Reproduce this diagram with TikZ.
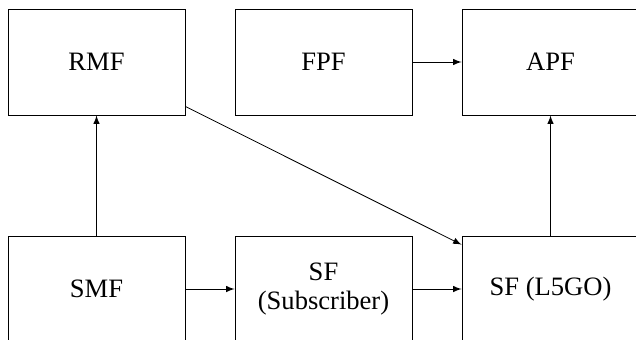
\documentclass[tikz,border=0pt]{standalone}
\usepackage{fontspec}
\setmainfont{Liberation Serif}
\usetikzlibrary{arrows}
\tikzstyle{block}=[draw,minimum width=83.3pt,minimum height=49.9pt,inner sep=0pt,align=center,font=\fontsize{12.5}{13.8}\selectfont]
\tikzstyle{edge} = [draw,-latex]

\begin{document}
\begin{tikzpicture}[x=0.4706pt,y=0.4706pt]

    \useasboundingbox (0,0) rectangle (636,339);
    \clip (0,0) rectangle (636,339);

    \def\ya{277};
    \def\yb{50};

% Functions
    \foreach \pos/\name/\txt in {{(96.5,\ya)/rmf/RMF}, {(323.5,\ya)/fpf/FPF}, {(550.5,\ya)/apf/APF}, {(96.5,\yb)/smf/SMF}, {(323.5,\yb)/sub/{SF\\(Subscriber)}}, {(550.5,\yb)/lgo/SF (L5GO)}}
        \node[block] (\name) at \pos {\txt};

% Edges
    \foreach \source/\dest in {smf/rmf, smf/sub, sub/lgo, fpf/apf, lgo/apf, rmf/lgo}
        \path[edge] (\source) -- (\dest);

\end{tikzpicture}
\end{document}
